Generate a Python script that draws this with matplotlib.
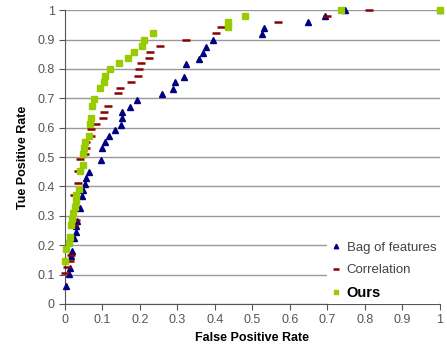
import matplotlib
matplotlib.use("Agg")
import matplotlib.pyplot as plt

# ==============================
# DATA
# ==============================

bof_fpr = [0.003, 0.010, 0.013, 0.017, 0.019, 0.025, 0.029, 0.029, 0.031, 0.041,
           0.046, 0.049, 0.053, 0.055, 0.063, 0.095, 0.100, 0.108, 0.118, 0.134,
           0.150, 0.151, 0.153, 0.174, 0.191, 0.258, 0.288, 0.294, 0.318, 0.323,
           0.358, 0.368, 0.377, 0.395, 0.525, 0.531, 0.648, 0.694, 0.748, 1.000]
bof_tpr = [0.061, 0.101, 0.122, 0.162, 0.181, 0.223, 0.244, 0.264, 0.283, 0.326,
           0.367, 0.388, 0.407, 0.428, 0.448, 0.490, 0.530, 0.550, 0.571, 0.591,
           0.610, 0.632, 0.652, 0.672, 0.694, 0.713, 0.732, 0.754, 0.774, 0.816,
           0.834, 0.855, 0.876, 0.898, 0.918, 0.939, 0.958, 0.979, 0.999, 1.000]

corr_fpr = [0.001, 0.006, 0.013, 0.016, 0.025, 0.029, 0.025, 0.034, 0.036, 0.041,
            0.053, 0.055, 0.057, 0.070, 0.070, 0.082, 0.102, 0.105, 0.116, 0.141,
            0.146, 0.175, 0.194, 0.198, 0.202, 0.224, 0.228, 0.253, 0.324, 0.402,
            0.417, 0.569, 0.698, 0.810]
corr_tpr = [0.104, 0.127, 0.146, 0.167, 0.268, 0.286, 0.370, 0.410, 0.451, 0.492,
            0.511, 0.532, 0.552, 0.572, 0.594, 0.612, 0.634, 0.654, 0.675, 0.717,
            0.735, 0.756, 0.777, 0.798, 0.819, 0.837, 0.858, 0.879, 0.899, 0.921,
            0.941, 0.960, 0.981, 1.000]

ours_fpr = [0.001, 0.004, 0.010, 0.013, 0.015, 0.019, 0.021, 0.026, 0.029, 0.030,
            0.037, 0.039, 0.047, 0.048, 0.050, 0.053, 0.064, 0.066, 0.069, 0.071,
            0.077, 0.093, 0.103, 0.106, 0.119, 0.143, 0.169, 0.183, 0.205, 0.211,
            0.235, 0.434, 0.436, 0.479, 0.736, 1.000]
ours_tpr = [0.146, 0.186, 0.206, 0.227, 0.268, 0.288, 0.308, 0.329, 0.349, 0.370,
            0.391, 0.451, 0.472, 0.511, 0.532, 0.552, 0.572, 0.612, 0.634, 0.675,
            0.696, 0.735, 0.756, 0.777, 0.798, 0.819, 0.837, 0.858, 0.879, 0.900,
            0.921, 0.941, 0.960, 0.981, 1.000, 1.000]

ticks = [0, 0.1, 0.2, 0.3, 0.4, 0.5, 0.6, 0.7, 0.8, 0.9, 1]
tick_labels = ["0", "0.1", "0.2", "0.3", "0.4", "0.5", "0.6", "0.7", "0.8", "0.9", "1"]

# ==============================
# PLOT
# ==============================

plt.rcParams["font.family"] = ["Liberation Sans", "DejaVu Sans"]

fig = plt.figure(figsize=(4.47, 3.49), dpi=100)
ax = fig.add_axes([0.1454, 0.129, 0.8389, 0.842])

ax.plot(bof_fpr, bof_tpr, linestyle="none", marker="^", markersize=5,
        color="#000080", label="Bag of features", clip_on=False, zorder=3)
ax.plot(corr_fpr, corr_tpr, linestyle="none", marker="_", markersize=6,
        markeredgewidth=1.8, color="#8B0000", label="Correlation", clip_on=False, zorder=3)
ax.plot(ours_fpr, ours_tpr, linestyle="none", marker="s", markersize=4.5,
        color="#99CC00", label="Ours", clip_on=False, zorder=3)

ax.set_xlim(0, 1)
ax.set_ylim(0, 1)
ax.set_xticks(ticks)
ax.set_xticklabels(tick_labels)
ax.set_yticks(ticks)
ax.set_yticklabels(tick_labels)

ax.yaxis.grid(True, color="#999999", linewidth=1)
ax.set_axisbelow(True)
for side in ("top", "right"):
    ax.spines[side].set_visible(False)
for side in ("left", "bottom"):
    ax.spines[side].set_color("#555555")
ax.tick_params(direction="out", length=4, color="#555555", labelcolor="#555555",
               labelsize=9)

ax.set_xlabel("False Positive Rate", fontsize=9, fontweight="bold", labelpad=4)
ax.set_ylabel("Tue Positive Rate", fontsize=9, fontweight="bold", labelpad=6)

leg = fig.legend(loc="lower right", bbox_to_anchor=(1.0, 0.11), frameon=True,
                 fontsize=9.5, handlelength=0.7, handletextpad=0.5,
                 borderpad=0.3, labelspacing=0.75, markerscale=0.65)
leg.get_frame().set_facecolor("white")
leg.get_frame().set_edgecolor("none")
leg.get_frame().set_alpha(1)
texts = leg.get_texts()
texts[0].set_color("#444444")
texts[1].set_color("#444444")
texts[2].set_color("black")
texts[2].set_fontweight("bold")
texts[2].set_fontsize(10.5)

fig.savefig("out.png", dpi=100)
